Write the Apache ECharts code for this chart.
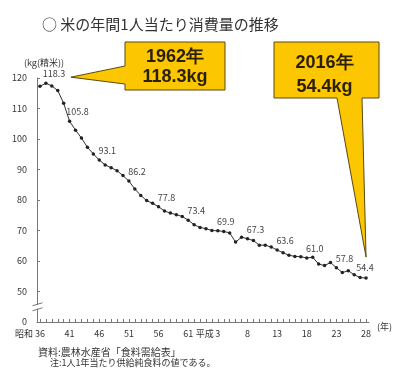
<!DOCTYPE html>
<html>
<head>
<meta charset="utf-8">
<script src="https://cdn.jsdelivr.net/npm/echarts@6/dist/echarts.min.js"></script>
<style>
  html, body { margin: 0; padding: 0; background: #fff; }
  #chart { width: 395px; height: 379px; }
</style>
</head>
<body>
<div id="chart"></div>
<script>
// Annual rice consumption per person (kg, milled), 1961 (昭和36) – 2016 (平成28)
const years = Array.from({ length: 56 }, (_, i) => 1961 + i);
const riceKg = [
  117.3, 118.3, 117.4, 115.9, 111.7, 105.8, 102.9, 100.3, 97.3, 95.1,
  93.1, 91.5, 90.6, 89.6, 88.0, 86.2, 83.6, 81.5, 79.8, 78.9,
  77.8, 76.4, 75.7, 75.2, 74.6, 73.4, 71.9, 71.0, 70.6, 70.0,
  69.9, 69.7, 69.2, 66.2, 67.8, 67.3, 66.7, 65.2, 65.2, 64.6,
  63.6, 62.7, 61.9, 61.5, 61.4, 61.0, 61.2, 59.0, 58.5, 59.5,
  57.8, 56.2, 56.8, 55.5, 54.6, 54.4
];
// Era-year tick labels, one every five years
const tickLabels = ['36', '41', '46', '51', '56', '61', '3', '8', '13', '18', '23', '28'];
// Era names written in front of the first tick of each era
const eraMarks = [{ index: 0, text: '昭和' }, { index: 30, text: '平成' }];
// Years whose values are printed next to the line
const labeledYears = [1962, 1966, 1971, 1976, 1981, 1986, 1991, 1996, 2001, 2006, 2011, 2016];
// Highlighted years in the callout boxes
const calloutYears = [1962, 2016];

const FONT = '"Noto Sans CJK JP", "Noto Sans", sans-serif';
const AXIS_COLOR = '#777';
const TEXT_COLOR = '#333';

const lastIndex = years.length - 1;
const seriesData = riceKg.map((v, i) => {
  const item = { value: v };
  if (labeledYears.includes(years[i])) {
    item.label = { show: true };
    if (i === lastIndex) item.label.offset = [-1, -1];
  }
  return item;
});

const chart = echarts.init(document.getElementById('chart'), null, { renderer: 'canvas' });

chart.setOption({
  animation: false,
  backgroundColor: '#fff',
  textStyle: { fontFamily: FONT },
  title: {
    text: '○ 米の年間1人当たり消費量の推移',
    left: 37,
    top: 12,
    textStyle: { fontFamily: FONT, fontSize: 15, fontWeight: 'normal', color: '#333' }
  },
  grid: { left: 37, right: 22, top: 78, bottom: 57 },
  xAxis: {
    type: 'category',
    data: years,
    boundaryGap: true,
    name: '(年)',
    nameLocation: 'end',
    nameGap: 5,
    nameTextStyle: { fontFamily: FONT, fontSize: 9, color: TEXT_COLOR, verticalAlign: 'top', padding: [0, 0, 0, 0] },
    axisLine: { lineStyle: { color: AXIS_COLOR, width: 1 } },
    axisTick: { show: true, inside: true, length: 3, interval: 0, alignWithLabel: true, lineStyle: { color: AXIS_COLOR } },
    axisLabel: {
      interval: 0,
      margin: 7,
      fontSize: 9,
      color: TEXT_COLOR,
      fontFamily: FONT,
      formatter: (val, idx) => (idx % 5 === 0 ? tickLabels[idx / 5] : '')
    },
    splitLine: { show: false }
  },
  yAxis: {
    type: 'value',
    min: 40,
    max: 120,
    interval: 10,
    name: '(kg(精米))',
    nameLocation: 'end',
    nameGap: 11,
    nameTextStyle: { fontFamily: FONT, fontSize: 9, color: TEXT_COLOR, padding: [0, 0, 0, 14] },
    axisLine: { show: true, lineStyle: { color: AXIS_COLOR, width: 1 } },
    axisTick: { show: true, inside: true, length: 3, lineStyle: { color: AXIS_COLOR } },
    axisLabel: {
      margin: 10,
      fontSize: 9,
      color: TEXT_COLOR,
      fontFamily: FONT,
      formatter: v => (v === 40 ? '0' : String(v))
    },
    splitLine: { show: false }
  },
  series: [{
    type: 'line',
    data: seriesData,
    symbol: 'circle',
    symbolSize: 3.5,
    itemStyle: { color: '#222' },
    lineStyle: { color: '#333', width: 1 },
    label: {
      show: false,
      position: 'top',
      distance: 3,
      offset: [8, 0],
      fontSize: 9,
      color: '#444',
      fontFamily: FONT,
      formatter: p => p.value.toFixed(1)
    },
    z: 3
  }]
});

// Annotation layer: axis break, era names, callouts and source notes
function px(index, value) {
  return chart.convertToPixel({ gridIndex: 0 }, [index, value]);
}

const elements = [];

// Axis break between 0 and 50
const brk = px(0, 45);
const axisX = chart.convertToPixel({ gridIndex: 0 }, [0, 40]);
const yAxisX = Math.round(chart.getModel().getComponent('grid').coordinateSystem.getRect().x) + 0.5;
elements.push({
  type: 'rect',
  shape: { x: yAxisX - 3, y: brk[1] - 2, width: 6, height: 4 },
  style: { fill: '#fff' },
  z: 10
});
[-2.5, 2.5].forEach(dy => {
  elements.push({
    type: 'line',
    shape: { x1: yAxisX - 5, y1: brk[1] + dy + 1.5, x2: yAxisX + 5, y2: brk[1] + dy - 1.5 },
    style: { stroke: AXIS_COLOR, lineWidth: 1 },
    z: 11
  });
});

// Era names next to the tick labels
const labelY = axisX[1] + 12;
eraMarks.forEach(m => {
  const p = px(m.index, 40);
  const offset = tickLabels[m.index / 5].length > 1 ? 7 : 4;
  elements.push({
    type: 'text',
    x: p[0] - offset,
    y: labelY,
    style: { text: m.text, fontSize: 9, fontFamily: FONT, fill: TEXT_COLOR, align: 'right', verticalAlign: 'middle' },
    z: 10
  });
});

// Callout boxes
const CALLOUT_FILL = '#FCC600';
const CALLOUT_STROKE = '#5a4a10';
const calloutText = (x, y, t) => ({
  type: 'text', x, y,
  style: { text: t, fontSize: 18, fontWeight: 'bold', fontFamily: '"Liberation Sans", Arial, sans-serif', fill: '#2a2000', align: 'center', verticalAlign: 'middle' },
  z: 21
});

// 1962 peak: box to the upper right, pointer to the left
{
  const i = years.indexOf(calloutYears[0]);
  const p = px(i, riceKg[i]);
  const tip = [p[0] + 25, p[1] - 6];
  const b = { x: 125, y: 42, w: 100, h: 48 };
  elements.push({
    type: 'polygon',
    shape: { points: [[b.x, b.y], [b.x + b.w, b.y], [b.x + b.w, b.y + b.h], [b.x, b.y + b.h], [b.x, 84], tip, [b.x, 66]] },
    style: { fill: CALLOUT_FILL, stroke: CALLOUT_STROKE, lineWidth: 1 },
    z: 20
  });
  elements.push(calloutText(b.x + b.w / 2, 57, calloutYears[0] + '年'));
  elements.push(calloutText(b.x + b.w / 2, 77, riceKg[i].toFixed(1) + 'kg'));
}

// 2016 latest: box above, pointer down to the last point
{
  const i = years.indexOf(calloutYears[1]);
  const p = px(i, riceKg[i]);
  const tip = [p[0], p[1] - 21];
  const b = { x: 274, y: 42, w: 105, h: 56 };
  elements.push({
    type: 'polygon',
    shape: { points: [[b.x, b.y], [b.x + b.w, b.y], [b.x + b.w, b.y + b.h], [362, b.y + b.h], tip, [337, b.y + b.h], [b.x, b.y + b.h]] },
    style: { fill: CALLOUT_FILL, stroke: CALLOUT_STROKE, lineWidth: 1 },
    z: 20
  });
  elements.push(calloutText(b.x + b.w / 2 - 2, 63, calloutYears[1] + '年'));
  elements.push(calloutText(b.x + b.w / 2 - 2, 87, riceKg[i].toFixed(1) + 'kg'));
}

// Source notes
elements.push({
  type: 'text', x: 38, y: 352,
  style: { text: '資料:農林水産省「食料需給表」', fontSize: 10, fontFamily: FONT, fill: TEXT_COLOR, verticalAlign: 'middle' }
});
elements.push({
  type: 'text', x: 50, y: 363,
  style: { text: '注:1人1年当たり供給純食料の値である。', fontSize: 9, fontFamily: FONT, fill: TEXT_COLOR, verticalAlign: 'middle' }
});

chart.setOption({ graphic: { elements } });
</script>
</body>
</html>
